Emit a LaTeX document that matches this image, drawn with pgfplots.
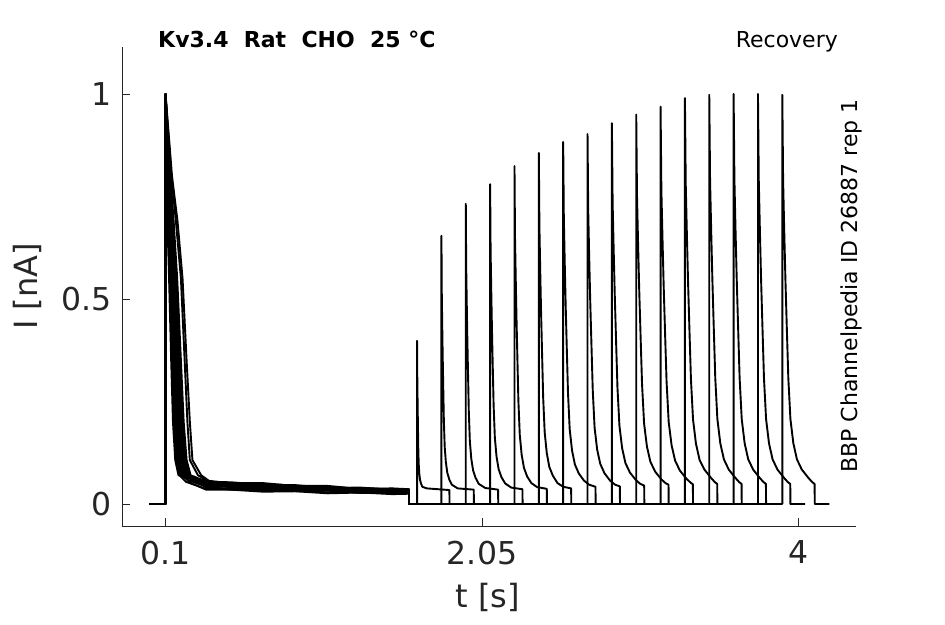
\documentclass[border=0pt]{standalone}
\usepackage{pgfplots}
\pgfplotsset{compat=1.18}
\usepackage{fontspec}
\setmainfont{DejaVu Sans}
\definecolor{axisgray}{RGB}{38,38,38}
\begin{document}
\begin{tikzpicture}
\useasboundingbox (0,0) rectangle (945pt,624pt);
\begin{axis}[
  at={(122pt,98pt)}, anchor=south west,
  scale only axis, width=734pt, height=479pt,
  xmin=-0.168, xmax=4.354, ymin=-0.0537, ymax=1.1146,
  axis lines*=left,
  xtick={0.1,2.05,4}, xticklabels={0.1,2.05,4},
  ytick={0,0.5,1}, yticklabels={0,0.5,1},
  tick align=inside, major tick length=8pt,
  axis line style={color=axisgray, line width=0.9pt},
  every tick/.style={color=axisgray, line width=0.9pt},
  tick label style={font=\fontsize{31.5}{36}\selectfont, text=axisgray},
  xticklabel style={yshift=-11.5pt},
  yticklabel style={xshift=-6.5pt},
  every axis plot post/.style={black, solid, line width=1.9pt, line join=round, mark=none},
]
% sweep 0
\addplot coordinates {(0,0) (0.1,0) (0.1,1) (0.14,0.8) (0.174,0.69) (0.205,0.55) (0.23,0.35) (0.25,0.2) (0.266,0.107) (0.32,0.07) (0.39,0.05) (0.5,0.040) (0.7,0.038) (0.9,0.032) (1.1,0.033) (1.3,0.030) (1.5,0.031) (1.6,0.028) (1.6,0) (1.65,0) (1.65,0.398) (1.651,0.318) (1.6524,0.271) (1.6538,0.227) (1.6556,0.180) (1.6574,0.135) (1.66,0.097) (1.6636,0.074) (1.668,0.059) (1.674,0.050) (1.682,0.042) (1.71,0.038) (1.849,0.034) (1.85,0) (1.94,0)};
% sweep 1
\addplot coordinates {(0,0) (0.1,0) (0.1,1) (0.136,0.8) (0.164,0.69) (0.195,0.55) (0.218,0.35) (0.235,0.2) (0.25,0.107) (0.3,0.07) (0.36,0.056) (0.5,0.049) (0.7,0.044) (0.9,0.043) (1.1,0.039) (1.3,0.039) (1.5,0.035) (1.6,0.033) (1.6,0) (1.8,0) (1.8,0.654) (1.802,0.518) (1.8048,0.437) (1.8076,0.363) (1.8112,0.283) (1.8148,0.205) (1.82,0.140) (1.8272,0.102) (1.836,0.0765) (1.848,0.060) (1.864,0.047) (1.9,0.038) (1.999,0.035) (2.0,0) (2.09,0)};
% sweep 2
\addplot coordinates {(0,0) (0.1,0) (0.1,1) (0.106,0.8) (0.112,0.69) (0.122,0.55) (0.135,0.35) (0.146,0.2) (0.16,0.107) (0.18,0.07) (0.22,0.068) (0.35,0.057) (0.5,0.051) (0.7,0.051) (0.9,0.044) (1.1,0.044) (1.3,0.037) (1.5,0.038) (1.6,0.036) (1.6,0) (1.95,0) (1.95,0.732) (1.9525,0.579) (1.956,0.488) (1.9595,0.404) (1.964,0.314) (1.9685,0.227) (1.975,0.153) (1.984,0.110) (1.995,0.082) (2.01,0.064) (2.03,0.049) (2.07,0.039) (2.149,0.035) (2.15,0) (2.24,0)};
% sweep 3
\addplot coordinates {(0,0) (0.1,0) (0.1,1) (0.1078,0.8) (0.1149,0.69) (0.1259,0.55) (0.1396,0.35) (0.1511,0.2) (0.1654,0.107) (0.1858,0.07) (0.2262,0.054) (0.35,0.037) (0.5,0.038) (0.7,0.032) (0.9,0.033) (1.1,0.028) (1.3,0.029) (1.5,0.026) (1.6,0.027) (1.6,0) (2.1,0) (2.1,0.78) (2.1029,0.616) (2.107,0.519) (2.111,0.430) (2.1162,0.333) (2.1215,0.240) (2.129,0.162) (2.1394,0.1155) (2.1522,0.085) (2.1696,0.0655) (2.1928,0.050) (2.23,0.040) (2.299,0.036) (2.3,0) (2.39,0)};
% sweep 4
\addplot coordinates {(0,0) (0.1,0) (0.1,1) (0.1097,0.8) (0.1179,0.69) (0.1297,0.55) (0.1442,0.35) (0.1562,0.2) (0.1708,0.107) (0.1916,0.07) (0.2323,0.064) (0.35,0.053) (0.5,0.048) (0.7,0.042) (0.9,0.042) (1.1,0.038) (1.3,0.038) (1.5,0.034) (1.6,0.032) (1.6,0) (2.25,0) (2.25,0.824) (2.2533,0.650) (2.2578,0.548) (2.2624,0.453) (2.2682,0.351) (2.274,0.252) (2.2825,0.169) (2.2942,0.120) (2.3085,0.088) (2.328,0.067) (2.354,0.051) (2.39,0.041) (2.449,0.037) (2.45,0) (2.54,0)};
% sweep 5
\addplot coordinates {(0,0) (0.1,0) (0.1,1) (0.1115,0.8) (0.1208,0.69) (0.1336,0.55) (0.1489,0.35) (0.1612,0.2) (0.1762,0.107) (0.1973,0.07) (0.2385,0.058) (0.35,0.043) (0.5,0.042) (0.7,0.039) (0.9,0.033) (1.1,0.034) (1.3,0.030) (1.5,0.032) (1.6,0.029) (1.6,0) (2.4,0) (2.4,0.856) (2.4036,0.675) (2.4086,0.569) (2.4137,0.470) (2.4202,0.363) (2.4266,0.261) (2.436,0.175) (2.449,0.124) (2.4648,0.090) (2.4864,0.069) (2.515,0.051) (2.55,0.042) (2.599,0.038) (2.6,0) (2.69,0)};
% sweep 6
\addplot coordinates {(0,0) (0.1,0) (0.1,1) (0.1134,0.8) (0.1237,0.69) (0.1374,0.55) (0.1535,0.35) (0.1663,0.2) (0.1816,0.107) (0.2031,0.07) (0.2446,0.066) (0.35,0.055) (0.5,0.048) (0.7,0.049) (0.9,0.042) (1.1,0.042) (1.3,0.036) (1.5,0.037) (1.6,0.034) (1.6,0) (2.55,0) (2.55,0.883) (2.554,0.698) (2.5596,0.588) (2.5652,0.487) (2.5724,0.377) (2.5796,0.272) (2.59,0.183) (2.6044,0.131) (2.622,0.0965) (2.646,0.0746) (2.678,0.057) (2.71,0.047) (2.749,0.042) (2.75,0) (2.84,0)};
% sweep 7
\addplot coordinates {(0,0) (0.1,0) (0.1,1) (0.1152,0.8) (0.1266,0.69) (0.1413,0.55) (0.1581,0.35) (0.1714,0.2) (0.187,0.107) (0.2089,0.07) (0.2508,0.052) (0.35,0.035) (0.5,0.035) (0.7,0.030) (0.9,0.031) (1.1,0.026) (1.3,0.028) (1.5,0.024) (1.6,0.025) (1.6,0) (2.7,0) (2.7,0.902) (2.7044,0.712) (2.7104,0.600) (2.7165,0.497) (2.7244,0.385) (2.7322,0.277) (2.7435,0.1865) (2.7592,0.133) (2.7783,0.098) (2.8044,0.075) (2.839,0.057) (2.87,0.047) (2.899,0.043) (2.9,0) (2.99,0)};
% sweep 8
\addplot coordinates {(0,0) (0.1,0) (0.1,1) (0.1171,0.8) (0.1296,0.69) (0.1451,0.55) (0.1627,0.35) (0.1765,0.2) (0.1923,0.107) (0.2147,0.07) (0.257,0.060) (0.35,0.048) (0.5,0.043) (0.7,0.038) (0.9,0.038) (1.1,0.034) (1.3,0.035) (1.5,0.031) (1.6,0.029) (1.6,0) (2.85,0) (2.85,0.929) (2.8547,0.733) (2.8612,0.618) (2.8677,0.511) (2.876,0.396) (2.8844,0.284) (2.8965,0.191) (2.9132,0.136) (2.9337,0.0996) (2.9616,0.0764) (2.9988,0.058) (3.025,0.049) (3.049,0.045) (3.05,0) (3.14,0)};
% sweep 9
\addplot coordinates {(0,0) (0.1,0) (0.1,1) (0.1189,0.8) (0.1324,0.69) (0.1489,0.55) (0.1673,0.35) (0.1815,0.2) (0.1977,0.107) (0.2204,0.07) (0.263,0.063) (0.35,0.050) (0.5,0.048) (0.7,0.044) (0.9,0.038) (1.1,0.039) (1.3,0.034) (1.5,0.035) (1.6,0.032) (1.6,0) (3.0,0) (3.0,0.95) (3.0049,0.750) (3.0116,0.632) (3.0184,0.523) (3.0272,0.405) (3.0359,0.292) (3.0485,0.196) (3.066,0.140) (3.0873,0.103) (3.1164,0.079) (3.1552,0.060) (3.18,0.051) (3.199,0.047) (3.2,0) (3.29,0)};
% sweep 10
\addplot coordinates {(0,0) (0.1,0) (0.1,1) (0.1208,0.8) (0.1354,0.69) (0.1528,0.55) (0.1719,0.35) (0.1866,0.2) (0.2031,0.107) (0.2261,0.07) (0.2692,0.056) (0.35,0.042) (0.5,0.036) (0.7,0.038) (0.9,0.032) (1.1,0.033) (1.3,0.028) (1.5,0.029) (1.6,0.027) (1.6,0) (3.15,0) (3.15,0.969) (3.155,0.765) (3.162,0.645) (3.169,0.534) (3.178,0.413) (3.187,0.298) (3.2,0.200) (3.218,0.143) (3.24,0.105) (3.27,0.081) (3.31,0.0615) (3.335,0.052) (3.349,0.048) (3.35,0) (3.44,0)};
% sweep 11
\addplot coordinates {(0,0) (0.1,0) (0.1,1) (0.1226,0.8) (0.1383,0.69) (0.1566,0.55) (0.1765,0.35) (0.1917,0.2) (0.2084,0.107) (0.2319,0.07) (0.2754,0.067) (0.35,0.054) (0.5,0.053) (0.7,0.047) (0.9,0.046) (1.1,0.039) (1.3,0.040) (1.5,0.035) (1.6,0.036) (1.6,0) (3.3,0) (3.3,0.99) (3.305,0.782) (3.312,0.659) (3.319,0.546) (3.328,0.423) (3.337,0.305) (3.35,0.206) (3.368,0.147) (3.39,0.108) (3.42,0.084) (3.46,0.064) (3.485,0.053) (3.499,0.049) (3.5,0) (3.59,0)};
% sweep 12
\addplot coordinates {(0,0) (0.1,0) (0.1,1) (0.1245,0.8) (0.1412,0.69) (0.1605,0.55) (0.1811,0.35) (0.1968,0.2) (0.2138,0.107) (0.2377,0.07) (0.2815,0.059) (0.35,0.047) (0.5,0.042) (0.7,0.037) (0.9,0.037) (1.1,0.033) (1.3,0.034) (1.5,0.030) (1.6,0.028) (1.6,0) (3.45,0) (3.45,0.998) (3.455,0.788) (3.462,0.664) (3.469,0.550) (3.478,0.426) (3.487,0.307) (3.5,0.207) (3.518,0.148) (3.54,0.109) (3.57,0.084) (3.61,0.064) (3.635,0.053) (3.649,0.049) (3.65,0) (3.74,0)};
% sweep 13
\addplot coordinates {(0,0) (0.1,0) (0.1,1) (0.1263,0.8) (0.1441,0.69) (0.1643,0.55) (0.1858,0.35) (0.2018,0.2) (0.2192,0.107) (0.2435,0.07) (0.2877,0.062) (0.35,0.049) (0.5,0.046) (0.7,0.043) (0.9,0.037) (1.1,0.038) (1.3,0.034) (1.5,0.035) (1.6,0.031) (1.6,0) (3.6,0) (3.6,1.0) (3.605,0.790) (3.612,0.665) (3.619,0.551) (3.628,0.427) (3.637,0.307) (3.65,0.207) (3.668,0.148) (3.69,0.109) (3.72,0.084) (3.76,0.064) (3.785,0.053) (3.799,0.049) (3.8,0) (3.89,0)};
% sweep 14
\addplot coordinates {(0,0) (0.1,0) (0.1,1) (0.1282,0.8) (0.1471,0.69) (0.1682,0.55) (0.1904,0.35) (0.2069,0.2) (0.2246,0.107) (0.2492,0.07) (0.2938,0.055) (0.35,0.041) (0.5,0.035) (0.7,0.037) (0.9,0.031) (1.1,0.033) (1.3,0.027) (1.5,0.028) (1.6,0.027) (1.6,0) (3.75,0) (3.75,1.0) (3.755,0.790) (3.762,0.665) (3.769,0.551) (3.778,0.427) (3.787,0.307) (3.8,0.207) (3.818,0.148) (3.84,0.109) (3.87,0.084) (3.91,0.064) (3.935,0.053) (3.949,0.049) (3.95,0) (4.04,0)};
% sweep 15
\addplot coordinates {(0,0) (0.1,0) (0.1,1) (0.13,0.8) (0.15,0.69) (0.172,0.55) (0.195,0.35) (0.212,0.2) (0.23,0.107) (0.255,0.07) (0.3,0.061) (0.35,0.046) (0.5,0.046) (0.7,0.040) (0.9,0.040) (1.1,0.034) (1.3,0.035) (1.5,0.031) (1.6,0.032) (1.6,0) (3.9,0) (3.9,0.998) (3.905,0.788) (3.912,0.664) (3.919,0.550) (3.928,0.426) (3.937,0.307) (3.95,0.207) (3.968,0.148) (3.99,0.109) (4.02,0.084) (4.06,0.064) (4.085,0.053) (4.099,0.049) (4.1,0) (4.19,0)};
\end{axis}
\node[anchor=base west, inner sep=0, font=\fontsize{22}{26}\selectfont\bfseries] at (158pt,576pt) {Kv3.4\ \ Rat\ \ CHO\ \ 25 °C};
\node[anchor=base east, inner sep=0, font=\fontsize{22}{26}\selectfont] at (838pt,576pt) {Recovery};
\node[rotate=90, anchor=base, inner sep=0, font=\fontsize{22}{26}\selectfont] at (857pt,338pt) {BBP Channelpedia ID 26887 rep 1};
\node[anchor=base, inner sep=0, font=\fontsize{32}{38}\selectfont, text=axisgray] at (488pt,16.5pt) {t [s]};
\node[rotate=90, anchor=base, inner sep=0, font=\fontsize{32}{38}\selectfont, text=axisgray] at (37pt,337.5pt) {I [nA]};
\end{tikzpicture}
\end{document}
